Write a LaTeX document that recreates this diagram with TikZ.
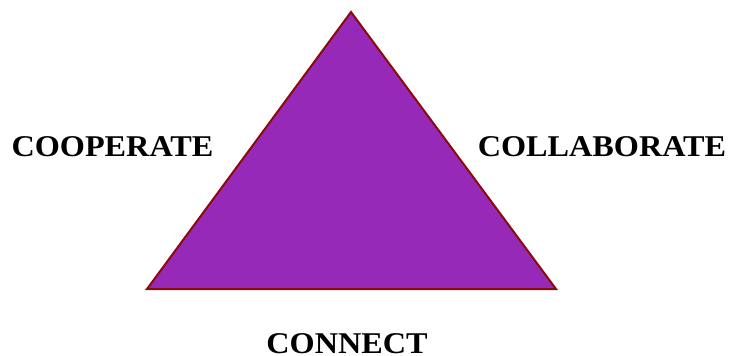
\documentclass[tikz,border=0pt]{standalone}
\usepackage{fontspec}
\setmainfont{Liberation Serif}[FakeStretch=1.07]
\usepackage{xcolor}
\usepackage{tikz}
\usetikzlibrary{positioning}
\definecolor{TriPurple}{HTML}{9629B8}
\definecolor{TriEdge}{HTML}{8B0A0A}

\begin{document}
\begin{tikzpicture}[x=0.75pt, y=-0.75pt,
            word/.style={inner sep=0pt, font=\fontsize{22.6}{26}\selectfont\bfseries, text=black},
            tri/.style={draw=TriEdge, line width=1.5pt, fill=TriPurple, line join=miter}
        ]
            \useasboundingbox (0,0) rectangle (731,356);

            % corners of the triangle
            \coordinate (top) at (351,12);
            \coordinate (left) at (147,289);
            \coordinate (right) at (556,289);
            \draw[tri] (top) -- (right) -- (left) -- cycle;

            \node[word] (coop) at (112.5,147) {COOPERATE};
            \node[word] (collab) at (602,146.5) {COLLABORATE};
            \node[word] (conn) at (347,343.5) {CONNECT};

        \end{tikzpicture}
\end{document}
